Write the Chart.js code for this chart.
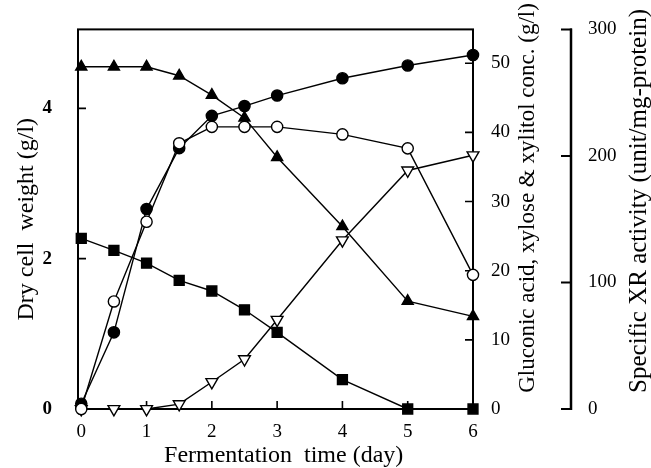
<!DOCTYPE html>
<html>
<head>
<meta charset="utf-8">
<script src="https://cdn.jsdelivr.net/npm/chart.js@4.4.1/dist/chart.umd.min.js"></script>
<style>
  html, body { margin: 0; padding: 0; background: #fff; }
</style>
</head>
<body>
<canvas id="chart" width="651" height="468"></canvas>
<script>
'use strict';

// Fermentation time (day)
const days = [0, 0.5, 1, 1.5, 2, 2.5, 3, 4, 5, 6];
const dayTicks = [0, 1, 2, 3, 4, 5, 6];

// left axis (g/l)
const dryCellWeight = [0.07, 1.02, 2.66, 3.47, 3.90, 4.03, 4.17, 4.40, 4.57, 4.71];
const squareSeries = [2.27, 2.11, 1.94, 1.71, 1.57, 1.32, 1.02, 0.39, 0, 0];
const leftTicks = [0, 2, 4];

// inner right axis (g/l)
const xylose = [49.5, 49.5, 49.5, 48.2, 45.4, 42.1, 36.4, 26.4, 15.6, 13.4];
const xylitol = [0, 0, 0, 0.7, 3.9, 7.2, 12.9, 24.4, 34.5, 36.7];
const concTicks = [0, 10, 20, 30, 40, 50];

// outer right axis (unit/mg-protein)
const xrActivity = [0, 85, 148, 210, 223, 223, 223, 217, 206, 106];
const xrTicks = [0, 100, 200, 300];

const serif = '"Liberation Serif", "Times New Roman", serif';

function pairs(values) {
  return days.map((d, i) => ({ x: d, y: values[i] }));
}

function fixedTicks(list) {
  return scale => { scale.ticks = list.map(v => ({ value: v })); };
}

function drawText(ctx, text, x, y, size, angle) {
  ctx.save();
  ctx.font = size + 'px ' + serif;
  ctx.translate(x, y);
  ctx.rotate(angle);
  ctx.fillText(text, 0, 0);
  ctx.restore();
}

// frame, inward ticks, outer bracket axis and the titles
const axesDecor = {
  id: 'axesDecor',
  beforeDatasetsDraw(chart) {
    const { ctx, chartArea: a, scales } = chart;
    ctx.save();
    ctx.strokeStyle = '#000';
    ctx.lineWidth = 2;
    ctx.strokeRect(a.left, a.top, a.right - a.left, a.bottom - a.top);

    ctx.lineWidth = 1.6;
    ctx.beginPath();
    scales.x.ticks.forEach(t => {
      const px = scales.x.getPixelForValue(t.value);
      ctx.moveTo(px, a.bottom);
      ctx.lineTo(px, a.bottom - 8);
    });
    scales.y.ticks.forEach(t => {
      const py = scales.y.getPixelForValue(t.value);
      ctx.moveTo(a.left, py);
      ctx.lineTo(a.left + 8, py);
    });
    scales.y2.ticks.forEach(t => {
      const py = scales.y2.getPixelForValue(t.value);
      ctx.moveTo(a.right, py);
      ctx.lineTo(a.right - 8, py);
    });
    ctx.stroke();

    const s = scales.y3;
    const x0 = s.left;
    ctx.lineWidth = 2.5;
    ctx.beginPath();
    ctx.moveTo(x0, s.getPixelForValue(xrTicks[0]) + 1);
    ctx.lineTo(x0, s.getPixelForValue(xrTicks[xrTicks.length - 1]) - 1);
    ctx.stroke();
    ctx.lineWidth = 2;
    ctx.beginPath();
    s.ticks.forEach(t => {
      const py = s.getPixelForValue(t.value);
      ctx.moveTo(x0 + 1, py);
      ctx.lineTo(x0 - 10, py);
    });
    ctx.stroke();

    ctx.fillStyle = '#000';
    ctx.textAlign = 'center';
    ctx.textBaseline = 'middle';
    drawText(ctx, 'Fermentation  time (day)', scales.x.getPixelForValue(3.1), a.bottom + 47, 24, 0);
    drawText(ctx, 'Gluconic acid, xylose & xylitol conc. (g/l)', scales.y2.left + 55, 198, 23, -Math.PI / 2);
    drawText(ctx, 'Specific XR activity (unit/mg-protein)', s.left + 68, 201, 25, -Math.PI / 2);
    ctx.restore();
  }
};

function series(values, axis, style, filled, radius, rotation) {
  return {
    data: pairs(values),
    yAxisID: axis,
    borderColor: '#000',
    borderWidth: 1.4,
    pointStyle: style,
    pointRadius: radius,
    pointRotation: rotation || 0,
    pointBackgroundColor: filled ? '#000' : '#fff',
    pointBorderColor: '#000',
    pointBorderWidth: 1.4,
    tension: 0,
    clip: false
  };
}

const ctx = document.getElementById('chart').getContext('2d');

new Chart(ctx, {
  type: 'line',
  data: {
    datasets: [
      series(xrActivity, 'y3', 'circle', false, 5.6),
      series(dryCellWeight, 'y', 'circle', true, 5.6),
      series(xylitol, 'y2', 'triangle', false, 6.8, 180),
      series(xylose, 'y2', 'triangle', true, 6.4),
      series(squareSeries, 'y', 'rect', true, 7)
    ]
  },
  options: {
    responsive: false,
    animation: false,
    layout: { padding: { top: 23, left: 0, right: 0, bottom: 0 } },
    plugins: {
      legend: { display: false },
      tooltip: { enabled: false }
    },
    scales: {
      x: {
        type: 'linear',
        position: 'bottom',
        min: -0.05,
        max: 6,
        afterBuildTicks: fixedTicks(dayTicks),
        afterFit: s => { s.height = 59; },
        grid: { display: false },
        border: { display: false },
        ticks: { padding: 4, color: '#000', font: { family: serif, size: 19 } }
      },
      y: {
        type: 'linear',
        position: 'left',
        min: 0,
        max: 5.05,
        afterBuildTicks: fixedTicks(leftTicks),
        afterFit: s => { s.width = 78; },
        grid: { display: false },
        border: { display: false },
        ticks: { padding: 18, color: '#000', font: { family: serif, size: 19, weight: 'bold' } },
        title: {
          display: true,
          text: 'Dry cell  weight (g/l)',
          color: '#000',
          padding: { top: 12, bottom: 0 },
          font: { family: serif, size: 24 }
        }
      },
      y2: {
        type: 'linear',
        position: 'right',
        weight: 0,
        min: 0,
        max: 54.9,
        afterBuildTicks: fixedTicks(concTicks),
        afterFit: s => { s.width = 98; },
        grid: { display: false },
        border: { display: false },
        ticks: { padding: 10, color: '#000', font: { family: serif, size: 19 } }
      },
      y3: {
        type: 'linear',
        position: 'right',
        weight: 1,
        min: 0,
        max: 300,
        afterBuildTicks: fixedTicks(xrTicks),
        afterFit: s => { s.width = 80; },
        grid: { display: false },
        border: { display: false },
        ticks: { padding: 9, color: '#000', font: { family: serif, size: 19 } }
      }
    }
  },
  plugins: [axesDecor]
});
</script>
</body>
</html>
